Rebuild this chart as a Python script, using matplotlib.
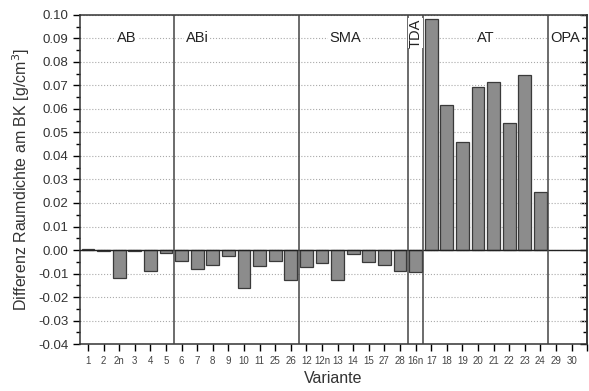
import numpy as np
import matplotlib.pyplot as plt
from matplotlib.ticker import MultipleLocator, NullFormatter

plt.rcParams['font.family'] = ['Liberation Sans', 'DejaVu Sans']

# Daten
varianten = ['1', '2', '2n', '3', '4', '5', '6', '7', '8', '9', '10', '11', '25', '26',
             '12', '12n', '13', '14', '15', '27', '28', '16n', '17', '18', '19', '20',
             '21', '22', '23', '24', '29', '30']
differenz = [0.0003, -0.0005, -0.0119, -0.0005, -0.0089, -0.0014,
             -0.0045, -0.0080, -0.0065, -0.0027, -0.0160, -0.0068, -0.0048, -0.0129,
             -0.0072, -0.0057, -0.0128, -0.0018, -0.0052, -0.0065, -0.0089,
             -0.0092,
             0.0983, 0.0616, 0.0461, 0.0692, 0.0714, 0.0539, 0.0745, 0.0248,
             np.nan, np.nan]
gruppen = ['AB', 'ABi', 'SMA', 'TDA', 'AT', 'OPA']
grenzen = [5.5, 13.5, 20.5, 21.5, 29.5]
gruppen_x = [2.5, 7.0, 16.5, 21.0, 25.5, 30.6]

fig = plt.figure(figsize=(5.89, 3.91), dpi=100)
ax = fig.add_axes([0.136, 0.120, 0.861, 0.842])

x = np.arange(len(varianten))
ax.bar(x, differenz, width=0.82, color='#8c8c8c', edgecolor='#3a3a3a',
       linewidth=0.9, zorder=3)

ax.axhline(0, color='#222222', linewidth=1.0, zorder=4)
for g in grenzen:
    ax.axvline(g, color='#444444', linewidth=1.1, zorder=4)

ax.set_xlim(-0.5, 32)
ax.set_ylim(-0.04, 0.10)
ax.set_xticks(np.arange(33))
ax.set_xticklabels(varianten + [''], fontsize=7, color='#444444')
yt = np.arange(-0.04, 0.1001, 0.01)
ax.set_yticks(yt)
ax.set_yticklabels(['%.2f' % v for v in yt], fontsize=9.5, color='#333333')
ax.yaxis.set_minor_locator(MultipleLocator(0.005))
ax.tick_params(axis='y', which='major', length=5, width=1, direction='out')
ax.tick_params(axis='y', which='minor', length=3, width=1, direction='out')
ax.tick_params(axis='x', length=5, width=1)
ax.yaxis.grid(True, which='major', linestyle=':', color='#aaaaaa', linewidth=0.8, zorder=0)

# Rechte Achse: Striche nach innen
rechts = ax.secondary_yaxis('right')
rechts.set_yticks(yt)
rechts.yaxis.set_major_formatter(NullFormatter())
rechts.yaxis.set_minor_locator(MultipleLocator(0.005))
rechts.tick_params(which='major', length=5, width=1, direction='in')
rechts.tick_params(which='minor', length=3, width=1, direction='in')
rechts.spines['right'].set_linewidth(1.1)
rechts.spines['right'].set_color('#333333')

for name, gx in zip(gruppen, gruppen_x):
    if name == 'TDA':
        ax.text(gx, 0.0985, name, rotation=90, ha='center', va='top', fontsize=10.5,
                color='#222222', zorder=5,
                bbox=dict(facecolor='white', edgecolor='none', pad=0.5))
    else:
        ax.text(gx, 0.09, name, ha='center', va='center', fontsize=10.5,
                color='#222222', zorder=5,
                bbox=dict(facecolor='white', edgecolor='none', pad=1))

for s in ax.spines.values():
    s.set_linewidth(1.1)
    s.set_color('#333333')

ax.set_xlabel('Variante', fontsize=11.5, color='#333333')
ax.set_ylabel('Differenz Raumdichte am BK [g/cm$^3$]', fontsize=11.5, color='#333333')

fig.savefig('out.png', dpi=100)
